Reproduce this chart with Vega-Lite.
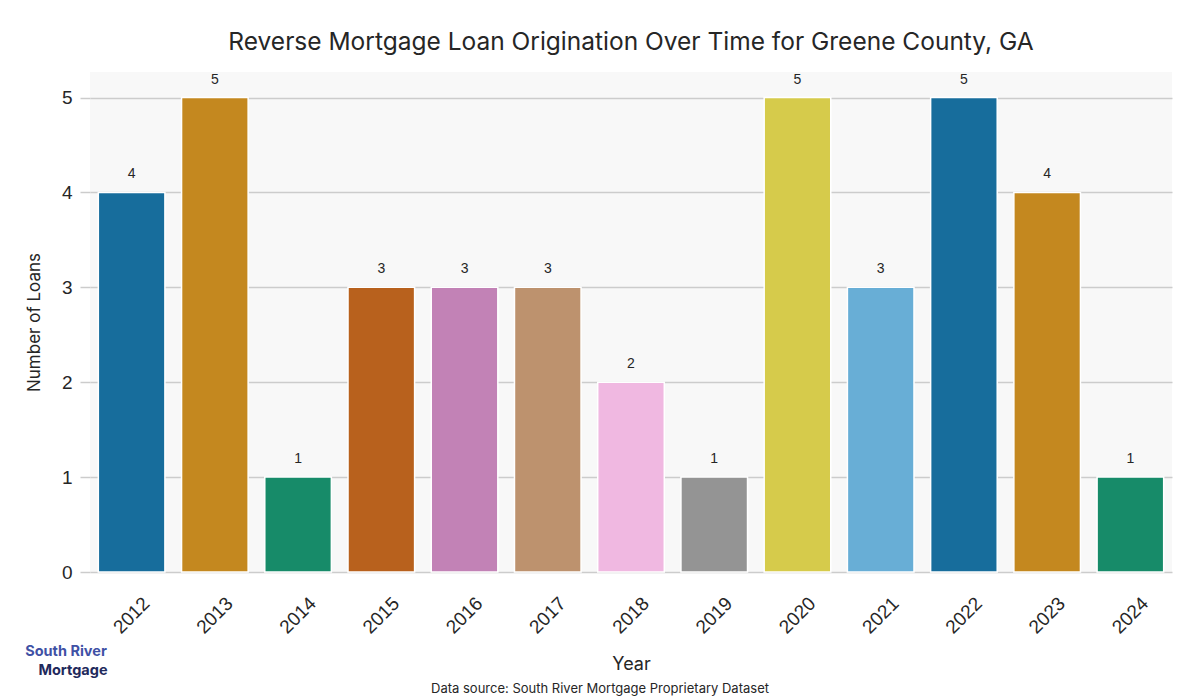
{
  "$schema": "https://vega.github.io/schema/vega-lite/v6.json",
  "autosize": {"type": "none"},
  "padding": {"left": 90, "top": 72, "right": 28, "bottom": 128},
  "width": 1082,
  "height": 500,
  "background": "white",
  "config": {
    "view": {"fill": "#f8f8f8", "stroke": null},
    "font": "Liberation Sans"
  },
  "title": {
    "text": "Reverse Mortgage Loan Origination Over Time for Greene County, GA",
    "font": "Inter",
    "fontSize": 24.5,
    "fontWeight": "normal",
    "color": "#262626",
    "anchor": "middle",
    "offset": 17
  },
  "layer": [
    {
      "data": {"values": [
        {"year": "2012", "loans": 4, "color": "#176d9c"},
        {"year": "2013", "loans": 5, "color": "#c4881f"},
        {"year": "2014", "loans": 1, "color": "#178b69"},
        {"year": "2015", "loans": 3, "color": "#b8611d"},
        {"year": "2016", "loans": 3, "color": "#c282b6"},
        {"year": "2017", "loans": 3, "color": "#bd926e"},
        {"year": "2018", "loans": 2, "color": "#f0b8e1"},
        {"year": "2019", "loans": 1, "color": "#949494"},
        {"year": "2020", "loans": 5, "color": "#d6cb4b"},
        {"year": "2021", "loans": 3, "color": "#68aed6"},
        {"year": "2022", "loans": 5, "color": "#176d9c"},
        {"year": "2023", "loans": 4, "color": "#c4881f"},
        {"year": "2024", "loans": 1, "color": "#178b69"}
      ]},
      "encoding": {
        "x": {
          "field": "year", "type": "ordinal",
          "scale": {"paddingInner": 0.2, "paddingOuter": 0.1},
          "axis": {
            "title": "Year", "titleFont": "Inter", "titleFontSize": 18, "titleFontWeight": "normal", "titleColor": "#262626", "titlePadding": 18,
            "labelAngle": -45, "labelAlign": "center", "labelBaseline": "middle", "labelPadding": 43,
            "labelFontSize": 19, "labelColor": "#262626",
            "ticks": false, "domain": false, "grid": false
          }
        },
        "y": {
          "field": "loans", "type": "quantitative",
          "scale": {"domain": [0, 5.27], "nice": false},
          "axis": {
            "title": "Number of Loans", "titleFont": "Inter", "titleFontSize": 17, "titleFontWeight": "normal", "titleColor": "#262626", "titlePadding": 18,
            "values": [0, 1, 2, 3, 4, 5],
            "labelFontSize": 19, "labelColor": "#262626", "labelPadding": 8,
            "ticks": true, "tickSize": 10, "tickColor": "#cccccc", "tickWidth": 1.5,
            "domain": false, "grid": true, "gridColor": "#cccccc", "gridWidth": 1.5
          }
        }
      },
      "layer": [
        {
          "mark": {"type": "bar", "stroke": "white", "strokeWidth": 1.5},
          "encoding": {"color": {"field": "color", "type": "nominal", "scale": null, "legend": null}}
        },
        {
          "mark": {"type": "text", "dy": -11, "baseline": "bottom", "fontSize": 14, "color": "#262626"},
          "encoding": {"text": {"field": "loans", "type": "quantitative"}}
        }
      ]
    },
    {
      "data": {"values": [{"t": "Data source: South River Mortgage Proprietary Dataset"}]},
      "mark": {"type": "text", "font": "Inter", "fontSize": 13, "color": "#262626", "align": "center", "baseline": "middle"},
      "encoding": {"text": {"field": "t"}, "x": {"value": 510}, "y": {"value": 617}}
    },
    {
      "data": {"values": [{"t": "South River"}]},
      "mark": {"type": "text", "font": "Inter", "fontSize": 14.5, "fontWeight": "bold", "color": "#3f51a5", "align": "center", "baseline": "middle"},
      "encoding": {"text": {"field": "t"}, "x": {"value": -24}, "y": {"value": 580}}
    },
    {
      "data": {"values": [{"t": "Mortgage"}]},
      "mark": {"type": "text", "font": "Inter", "fontSize": 14.5, "fontWeight": "bold", "color": "#1f2a5c", "align": "center", "baseline": "middle"},
      "encoding": {"text": {"field": "t"}, "x": {"value": -17}, "y": {"value": 599}}
    }
  ]
}
